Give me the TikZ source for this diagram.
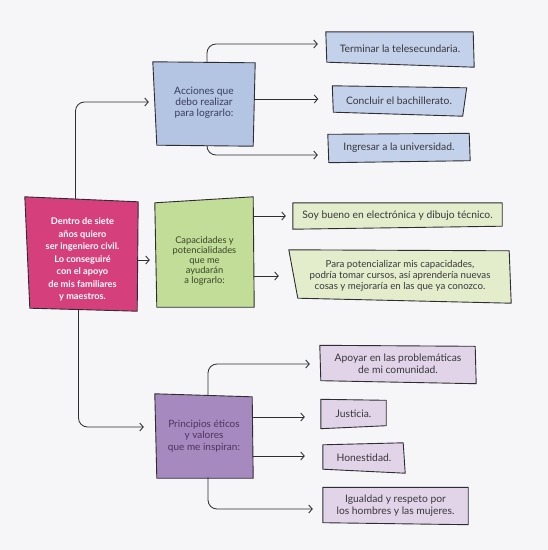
\documentclass[tikz,border=0pt]{standalone}
\usepackage{fontspec}
\setmainfont{Lato}
\usetikzlibrary{arrows.meta,calc,backgrounds}
\definecolor{bgc}{RGB}{246,246,248}
\definecolor{pinkc}{RGB}{213,64,124}
\definecolor{bluebig}{RGB}{180,196,227}
\definecolor{bluesm}{RGB}{196,209,234}
\definecolor{greenbig}{RGB}{194,221,152}
\definecolor{greensm}{RGB}{227,237,203}
\definecolor{purpbig}{RGB}{166,137,191}
\definecolor{purpsm}{RGB}{226,212,232}
\definecolor{edge}{RGB}{45,45,50}
\definecolor{txt}{RGB}{55,55,60}
\newcommand\quadbox[6]{%
  \draw[boxline,fill=#2] ([shift={#3}]#1.north west) -- ([shift={#4}]#1.north east)
    -- ([shift={#5}]#1.south east) -- ([shift={#6}]#1.south west) -- cycle;}
\newcommand\movetext[2]{\raisebox{#1}[\height][\depth]{\begin{tabular}{@{}c@{}}#2\end{tabular}}}
\begin{document}
\begin{tikzpicture}[x=1pt,y=-1pt,
  boxline/.style={draw=edge,line width=0.9pt,line join=round},
  box/.style={inner sep=0pt,align=center,font=\fontsize{10.3}{12}\selectfont,text=txt},
  bigtxt/.style={box,font=\fontsize{10.2}{11}\selectfont},
  arr/.style={draw=edge,line width=0.85pt,-{Straight Barb[length=3.5pt,width=8pt]}},
  rc/.style={rounded corners=9pt}]
\begin{scope}[on background layer]
\fill[bgc] (0,0) rectangle (548,550);
\end{scope}
\useasboundingbox (0,0) rectangle (548,550);

% main nodes
\node[bigtxt,minimum width=111pt,minimum height=111pt,text=white,font=\bfseries\fontsize{9.2}{12.5}\selectfont] (P) at (82.5,254.5)
  {\movetext{-5pt}{Dentro de siete\\años quiero\\ser ingeniero civil.\\Lo conseguiré\\con el apoyo\\de mis familiares\\y maestros.}};
\node[bigtxt,minimum width=100pt,minimum height=84pt,text={rgb,255:red,55;green,62;blue,92}] (A) at (204,104)
  {\movetext{1pt}{Acciones que\\debo realizar\\para lograrlo:}};
\node[bigtxt,minimum width=99pt,minimum height=107pt,text={rgb,255:red,55;green,70;blue,40},font=\fontsize{9.3}{9.8}\selectfont] (G) at (204.5,253.5)
  {\movetext{-8pt}{Capacidades y\\potencialidades\\que me\\ayudarán\\a lograrlo:}};
\node[bigtxt,minimum width=98pt,minimum height=82pt,text={rgb,255:red,80;green,50;blue,95},font=\fontsize{10}{11.5}\selectfont] (V) at (204,436)
  {Principios éticos\\y valores\\que me inspiran:};

% small nodes
\node[box,minimum width=148pt,minimum height=34pt] (B1) at (400,49) {Terminar la telesecundaria.};
\node[box,minimum width=133pt,minimum height=28pt] (B2) at (399,101) {Concluir el bachillerato.};
\node[box,minimum width=142pt,minimum height=27pt] (B3) at (399,148) {Ingresar a la universidad.};
\node[box,minimum width=209pt,minimum height=26pt] (G1) at (397.5,216) {Soy bueno en electrónica y dibujo técnico.};
\node[box,minimum width=222pt,minimum height=52pt,font=\fontsize{9.7}{11}\selectfont] (G2) at (400,276)
  {Para potencializar mis capacidades,\\podría tomar cursos, así aprendería nuevas\\cosas y mejoraría en las que ya conozco.};
\node[box,minimum width=156pt,minimum height=37pt] (V1) at (398,364) {Apoyar en las problemáticas\\de mi comunidad.};
\node[box,minimum width=65pt,minimum height=27pt] (V2) at (353.5,414) {Justicia.};
\node[box,minimum width=82pt,minimum height=28pt] (V3) at (364,458) {Honestidad.};
\node[box,minimum width=145pt,minimum height=37pt] (V4) at (395.5,506) {Igualdad y respeto por\\los hombres y las mujeres.};

\begin{scope}[on background layer]
\quadbox{P}{pinkc}{(-2,-2)}{(0,3)}{(-1,1)}{(3,-2)}
\quadbox{A}{bluebig}{(-1,0)}{(1,1)}{(-1,0)}{(3,-1)}
\quadbox{G}{greenbig}{(0,3)}{(-1,-3)}{(0,0)}{(2,0)}
\quadbox{V}{purpbig}{(0,-1)}{(-1,2)}{(0,1)}{(2,1)}
\quadbox{B1}{bluesm}{(0,0)}{(-1,0)}{(0,1)}{(1,-4)}
\quadbox{B2}{bluesm}{(0,-1)}{(1,1)}{(-3,1)}{(1,-3)}
\quadbox{B3}{bluesm}{(0,0)}{(-1,-1)}{(0,-1)}{(1,1)}
\quadbox{G1}{greensm}{(0,0)}{(0,0)}{(0,-3)}{(0,0)}
\quadbox{G2}{greensm}{(0,0)}{(-2,1)}{(0,1)}{(9,-4)}
\quadbox{V1}{purpsm}{(0,0)}{(-1,1)}{(0,1)}{(1,-2)}
\quadbox{V2}{purpsm}{(0,-1)}{(0,0)}{(0,-2)}{(0,1)}
\quadbox{V3}{purpsm}{(0,1)}{(-2,-1)}{(0,1)}{(0,-3)}
\quadbox{V4}{purpsm}{(0,0)}{(0,0)}{(0,0)}{(0,-2)}
\end{scope}

% connectors
\draw[arr,rc,shorten >=5pt] ([xshift=-7pt]P.north) |- ([yshift=2pt]A.west);
\draw[arr,shorten >=5pt] ([yshift=-5.5pt]P.east) -- ([yshift=-5.5pt]P.east -| G.west);
\draw[arr,rc,shorten >=11pt] ([xshift=-4pt]P.south) |- ([yshift=9pt]V.west);

\draw[arr,rc,shorten >=8pt] ([xshift=3pt]A.north) |- ([yshift=5pt]B1.west);
\draw[arr,shorten >=14pt] ([yshift=5pt]A.east) -- ([yshift=5pt]A.east -| B2.west);
\draw[arr,rc,shorten >=10pt] ([xshift=3pt]A.south) |- ([yshift=-7pt]B3.west);

\draw[arr,shorten >=7pt] (G.east |- G1.west) -- (G1.west);
\draw[arr,shorten >=10pt] (G.east |- G2.west) -- (G2.west);

\draw[arr,rc,shorten >=10pt] ([xshift=4pt]V.north) |- (V1.west);
\draw[arr,shorten >=16pt] ([yshift=-3pt]V.east |- V2.west) -- ([yshift=-3pt]V2.west);
\draw[arr,shorten >=18pt] ([yshift=2pt]V.east |- V3.west) -- ([yshift=2pt]V3.west);
\draw[arr,rc,shorten >=10pt] ([xshift=4pt]V.south) |- ([yshift=-3pt]V4.west);
\end{tikzpicture}
\end{document}
